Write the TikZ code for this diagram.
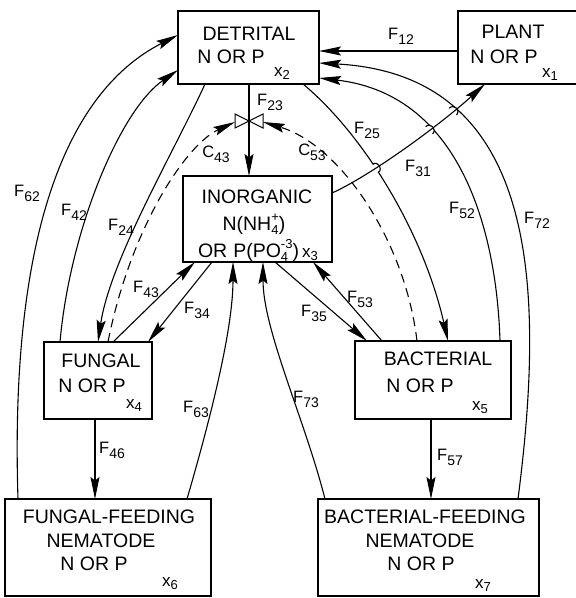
\documentclass[tikz,border=0pt]{standalone}
\usepackage{fontspec}
\setmainfont{Liberation Sans}
\usetikzlibrary{arrows.meta,calc,intersections}
\newcommand{\Fl}[2]{#1\raisebox{-5pt}{\fontsize{14}{14}\selectfont #2}}
\newcommand{\xs}[1]{{\fontsize{17}{17}\selectfont x}\raisebox{-3pt}{\fontsize{13}{13}\selectfont #1}}
\newcommand{\stk}[2]{\makebox[0pt][l]{\raisebox{-4pt}{\fontsize{13}{13}\selectfont #1}}\raisebox{9pt}{\fontsize{13}{13}\selectfont #2}}
\newcommand{\mybump}[5]{\draw[line width=1.1pt] ($(#1)-(#2,#3)$) .. controls ($(#1)-(#2,#3)+(#4,#5)$) and ($(#1)+(#2,#3)+(#4,#5)$) .. ($(#1)+(#2,#3)$);}
\begin{document}
\begin{tikzpicture}[x=1pt,y=-1pt,
  box/.style={draw, line width=1.3pt, inner sep=0pt, outer sep=0pt},
  txt/.style={font=\fontsize{19.5}{22}\selectfont, inner sep=0pt, anchor=base},
  lbl/.style={font=\fontsize{16.5}{18}\selectfont, inner sep=0pt, anchor=base},
  arr/.style={line width=1.1pt, -{Stealth[length=22pt,width=9pt,inset=3.5pt]}},
  dsh/.style={dash pattern=on 9pt off 6pt}]
\useasboundingbox (0,0) rectangle (576,598);
\clip (0,0) rectangle (576,598);
\fill[white] (0,0) rectangle (576,598);

% boxes
\node[box, minimum width=141pt, minimum height=73pt] (det) at (248.5,47.5) {};
\node[box, minimum width=124pt, minimum height=73pt] (plant) at (520,47.5) {};
\node[box, minimum width=149pt, minimum height=86pt] (inorg) at (257.5,219) {};
\node[box, minimum width=108pt, minimum height=77pt] (fung) at (98,380.5) {};
\node[box, minimum width=156pt, minimum height=78pt] (bact) at (433,380) {};
\node[box, minimum width=206pt, minimum height=97pt] (ffn) at (108,547.5) {};
\node[box, minimum width=221pt, minimum height=97pt] (bfn) at (428.5,547.5) {};

% box texts
\node[txt] (t2a) at (249,40) {DETRITAL};
\node[txt] (t2b) at (231,63) {N OR P};
\node[txt] (t2c) at (282,76) {\xs{2}};
\node[txt] (t1a) at (513,38) {PLANT};
\node[txt] (t1b) at (504,63) {N OR P};
\node[txt] (t1c) at (550,77) {\xs{1}};
\node[txt] (t3a) at (257,203) {INORGANIC};
\node[txt] (t3b) at (254,230) {N(NH\stk{4}{+})};
\node[txt] (t3c) at (258,257) {OR\hspace{6pt}P(PO\stk{4}{-3})\,\xs{3}};
\node[txt] (t4a) at (101,367) {FUNGAL};
\node[txt] (t4b) at (92,392) {N OR P};
\node[txt] (t4c) at (134,408) {\xs{4}};
\node[txt] (t5a) at (438,365) {BACTERIAL};
\node[txt] (t5b) at (420,392) {N OR P};
\node[txt] (t5c) at (480,410) {\xs{5}};
\node[txt] (t6a) at (109,523) {FUNGAL-FEEDING};
\node[txt] (t6b) at (101,547) {NEMATODE};
\node[txt] (t6c) at (94,570) {N OR P};
\node[txt] (t6d) at (170,586) {\xs{6}};
\node[txt] (t7a) at (425,523) {BACTERIAL-FEEDING};
\node[txt] (t7b) at (420,547) {NEMATODE};
\node[txt] (t7c) at (421,570) {N OR P};
\node[txt] (t7d) at (483,588) {\xs{7}};

% valve
\coordinate (valve) at (249,121);
\draw[line width=1pt, fill=white] (valve) -- ($(valve)+(-14,-7)$) -- ($(valve)+(-14,7)$) -- cycle;
\draw[line width=1pt, fill=white] (valve) -- ($(valve)+(14,-7)$) -- ($(valve)+(14,7)$) -- cycle;

% connectors
\draw[arr] (plant.west |- 0,51) -- (det.east |- 0,51);
\draw[arr] (det.south -| 249,0) -- (inorg.north -| 249,0);
\fill (valve) circle (1.8pt);
\draw[arr, dsh] (fung.north -| 108,0) .. controls (130,230) and (185,145) .. ($(valve)+(-14,1)$);
\draw[arr, dsh] (bact.north -| 417,0) .. controls (405,240) and (340,145) .. ($(valve)+(14,1)$);
\draw[arr] (det.south -| 205,0) .. controls (175,150) and (110,260) .. (fung.north -| 98,0);
\draw[arr] (fung.north -| 60,0) .. controls (70,230) and (120,110) .. (det.west |- 0,70);
\draw[arr] (ffn.north -| 18,0) .. controls (10,250) and (60,95) .. (det.west |- 0,35);
\draw[arr] (fung.north -| 113,0) -- (inorg.south -| 195,0);
\draw[arr] (inorg.south -| 212,0) -- (fung.north -| 148,0);
\draw[arr] (fung.south -| 95,0) -- (ffn.north -| 95,0);
\draw[arr] (ffn.north -| 187,0) .. controls (210,420) and (233,330) .. (inorg.south -| 233,0);
\draw[arr] (bfn.north -| 325,0) .. controls (305,420) and (263,330) .. (inorg.south -| 263,0);
\draw[arr] (inorg.south -| 275,0) -- (bact.north -| 367,0);
\draw[arr] (bact.north -| 382,0) -- (inorg.south -| 313,0);
\draw[arr] (bact.south -| 431,0) -- (bfn.north -| 431,0);
\draw[arr, name path=f25] (det.south -| 303,0) .. controls (363,134) and (423,231) .. (bact.north -| 448,0);
\draw[arr, name path=f52] (bact.north -| 500,0) .. controls (497,240) and (465,95) .. (det.east |- 0,78);
\draw[arr, name path=f72] (bfn.north -| 518,0) .. controls (545,290) and (540,75) .. (det.east |- 0,63);
\path[name path=f31] (inorg.east |- 0,193) .. controls (370,176) and (440,125) .. (plant.south -| 485,0);
\path[name intersections={of=f31 and f25, by={i1}}];
\path[name intersections={of=f31 and f52, by={i2}}];
\path[name intersections={of=f31 and f72, by={i3}}];
\fill[white] (i1) circle (4.6pt);
\fill[white] (i2) circle (4.6pt);
\fill[white] (i3) circle (4.6pt);
\draw[arr] (inorg.east |- 0,193) .. controls (370,176) and (440,125) .. (plant.south -| 485,0);
\mybump{i1}{2.7}{4.2}{5.5}{-3.5}
\mybump{i2}{3.5}{3.6}{4.7}{-4.6}
\mybump{i3}{3.7}{3.35}{4.4}{-4.9}

% labels
\node[lbl] (l12) at (401,39) {\Fl{F}{12}};
\node[lbl] (l23) at (270,105) {\Fl{F}{23}};
\node[lbl] (l25) at (367,133) {\Fl{F}{25}};
\node[lbl] (l31) at (418,171) {\Fl{F}{31}};
\node[lbl] (l52) at (462,213) {\Fl{F}{52}};
\node[lbl] (l72) at (537,223) {\Fl{F}{72}};
\node[lbl] (l62) at (27,196) {\Fl{F}{62}};
\node[lbl] (l42) at (74,215) {\Fl{F}{42}};
\node[lbl] (l24) at (121,230) {\Fl{F}{24}};
\node[lbl] (l43) at (146,292) {\Fl{F}{43}};
\node[lbl] (l34) at (197,313) {\Fl{F}{34}};
\node[lbl] (l35) at (314,316) {\Fl{F}{35}};
\node[lbl] (l53) at (360,302) {\Fl{F}{53}};
\node[lbl] (l63) at (196,412) {\Fl{F}{63}};
\node[lbl] (l73) at (306,402) {\Fl{F}{73}};
\node[lbl] (l46) at (112,453) {\Fl{F}{46}};
\node[lbl] (l57) at (450,460) {\Fl{F}{57}};
\node[lbl] (c43) at (216,157) {\Fl{C}{43}};
\node[lbl] (c53) at (312,155) {\Fl{C}{53}};
\end{tikzpicture}
\end{document}
